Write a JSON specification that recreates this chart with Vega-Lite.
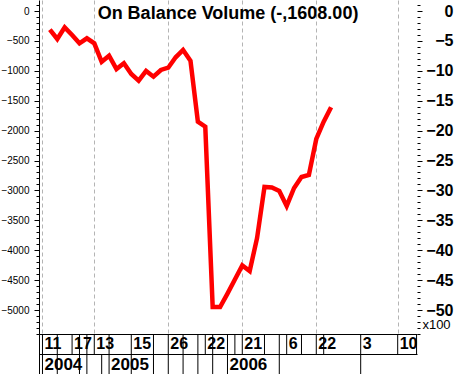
{
  "$schema": "https://vega.github.io/schema/vega-lite/v6.json",
  "autosize": {"type": "pad"},
  "padding": {"left": 0, "top": 0, "right": 2, "bottom": 0},
  "background": "white",
  "config": {"view": {"stroke": null}},
  "spacing": 0,
  "bounds": "flush",
  "datasets": {
    "obv": [
      {"t": 0, "v": -310}, {"t": 1, "v": -468}, {"t": 2, "v": -273}, {"t": 3, "v": -401},
      {"t": 4, "v": -540}, {"t": 5, "v": -456}, {"t": 6, "v": -540}, {"t": 7, "v": -848},
      {"t": 8, "v": -747}, {"t": 9, "v": -970}, {"t": 10, "v": -874}, {"t": 11, "v": -1053},
      {"t": 12, "v": -1165}, {"t": 13, "v": -1003}, {"t": 14, "v": -1098}, {"t": 15, "v": -986},
      {"t": 16, "v": -948}, {"t": 17, "v": -774}, {"t": 18, "v": -652}, {"t": 19, "v": -831},
      {"t": 20, "v": -1851}, {"t": 21, "v": -1934}, {"t": 22, "v": -4950}, {"t": 23, "v": -4950},
      {"t": 24, "v": -4725}, {"t": 25, "v": -4489}, {"t": 26, "v": -4253}, {"t": 27, "v": -4347},
      {"t": 28, "v": -3795}, {"t": 29, "v": -2943}, {"t": 30, "v": -2951}, {"t": 31, "v": -3010},
      {"t": 32, "v": -3260}, {"t": 33, "v": -2959}, {"t": 34, "v": -2776}, {"t": 35, "v": -2742},
      {"t": 36, "v": -2140}, {"t": 37, "v": -1851}, {"t": 38, "v": -1608}
    ],
    "seps": [
      {"t": -1, "row": "day"}, {"t": 1, "row": "day"}, {"t": 3, "row": "day"}, {"t": 4, "row": "day"},
      {"t": 5, "row": "day"}, {"t": 6, "row": "day"}, {"t": 8, "row": "day"}, {"t": 11, "row": "day"},
      {"t": 14, "row": "day"}, {"t": 16, "row": "day"}, {"t": 18, "row": "day"}, {"t": 20, "row": "day"},
      {"t": 21, "row": "day"}, {"t": 22, "row": "day"}, {"t": 24, "row": "day"}, {"t": 25, "row": "day"},
      {"t": 26, "row": "day"}, {"t": 29, "row": "day"}, {"t": 31, "row": "day"}, {"t": 32, "row": "day"},
      {"t": 34, "row": "day"}, {"t": 36, "row": "day"}, {"t": 37, "row": "day"}, {"t": 42, "row": "day"},
      {"t": 47, "row": "day"}, {"t": 49.55, "row": "day"},
      {"t": -1, "row": "year"}, {"t": 1, "row": "year"}, {"t": 4, "row": "year"}, {"t": 5, "row": "year"},
      {"t": 7, "row": "year"}, {"t": 8, "row": "year"}, {"t": 11, "row": "year"}, {"t": 14, "row": "year"},
      {"t": 16, "row": "year"}, {"t": 18, "row": "year"}, {"t": 20, "row": "year"}, {"t": 22, "row": "year"},
      {"t": 24, "row": "year"}, {"t": 31, "row": "year"}, {"t": 42, "row": "year"}
    ],
    "labels": [
      {"t": -1, "row": "day", "label": "11"}, {"t": 3, "row": "day", "label": "17"},
      {"t": 6, "row": "day", "label": "13"}, {"t": 11, "row": "day", "label": "15"},
      {"t": 16, "row": "day", "label": "26"}, {"t": 21, "row": "day", "label": "22"},
      {"t": 26, "row": "day", "label": "21"}, {"t": 32, "row": "day", "label": "6"},
      {"t": 36, "row": "day", "label": "22"}, {"t": 42, "row": "day", "label": "3"},
      {"t": 47, "row": "day", "label": "10"},
      {"t": -1, "row": "year", "label": "2004"}, {"t": 8, "row": "year", "label": "2005"},
      {"t": 24, "row": "year", "label": "2006"}
    ]
  },
  "vconcat": [
    {
      "width": 378,
      "height": 334,
      "title": {
        "text": "On Balance Volume (-,1608.00)",
        "font": "Liberation Sans",
        "fontSize": 18,
        "fontWeight": "bold",
        "color": "black",
        "anchor": "middle",
        "frame": "group",
        "baseline": "top",
        "offset": -23
      },
      "data": {"name": "obv"},
      "layer": [
        {
          "mark": {"type": "line", "color": "#ff0000", "strokeWidth": 4.5, "clip": true},
          "encoding": {
            "x": {
              "field": "t", "type": "quantitative",
              "scale": {"domain": [-1.47, 49.61], "nice": false, "zero": false},
              "axis": {
                "values": [-1, 3, 6, 11, 16, 21, 26, 32, 36, 42, 47],
                "grid": true, "gridDash": [4, 3], "gridColor": "#b4b4b4", "gridWidth": 1, "gridOpacity": 1,
                "labels": false, "ticks": false, "domain": false, "title": null
              }
            },
            "y": {
              "field": "v", "type": "quantitative",
              "scale": {"domain": [-5401, 184], "nice": false, "zero": false},
              "axis": {
                "orient": "left",
                "values": [-5400,-5300,-5200,-5100,-5000,-4900,-4800,-4700,-4600,-4500,-4400,-4300,-4200,-4100,-4000,-3900,-3800,-3700,-3600,-3500,-3400,-3300,-3200,-3100,-3000,-2900,-2800,-2700,-2600,-2500,-2400,-2300,-2200,-2100,-2000,-1900,-1800,-1700,-1600,-1500,-1400,-1300,-1200,-1100,-1000,-900,-800,-700,-600,-500,-400,-300,-200,-100,0,100],
                "format": "d",
                "labelExpr": "datum.value % 500 === 0 ? datum.label : ''",
                "tickSize": {"condition": {"test": "datum.value % 500 === 0", "value": 5}, "value": 3},
                "tickColor": "black", "tickWidth": 1,
                "domainColor": "black", "domainWidth": 1,
                "labelFont": "Liberation Sans", "labelFontSize": 10, "labelColor": "black",
                "labelPadding": 5, "labelBaseline": "middle",
                "grid": false, "title": null
              }
            }
          }
        },
        {
          "mark": {"type": "line", "opacity": 0},
          "encoding": {
            "x": {"field": "t", "type": "quantitative"},
            "y": {
              "field": "v", "type": "quantitative",
              "axis": {
                "orient": "right",
                "values": [-5400,-5300,-5200,-5100,-5000,-4900,-4800,-4700,-4600,-4500,-4400,-4300,-4200,-4100,-4000,-3900,-3800,-3700,-3600,-3500,-3400,-3300,-3200,-3100,-3000,-2900,-2800,-2700,-2600,-2500,-2400,-2300,-2200,-2100,-2000,-1900,-1800,-1700,-1600,-1500,-1400,-1300,-1200,-1100,-1000,-900,-800,-700,-600,-500,-400,-300,-200,-100,0,100],
                "labelExpr": "datum.value % 500 === 0 ? format(datum.value / 100, 'd') : ''",
                "tickSize": {"condition": {"test": "datum.value % 500 === 0", "value": 5}, "value": 3},
                "tickColor": "black", "tickWidth": 1,
                "domain": false,
                "labelFont": "Liberation Sans", "labelFontSize": 16, "labelFontWeight": "bold", "labelColor": "black",
                "labelAlign": "right", "labelPadding": 31, "labelBaseline": "middle",
                "grid": false,
                "title": "x100",
                "titleAngle": 0, "titleX": 19, "titleY": 324,
                "titleAlign": "center", "titleBaseline": "middle",
                "titleFont": "Liberation Sans", "titleFontSize": 13, "titleFontWeight": "normal", "titleColor": "black"
              }
            }
          }
        }
      ],
      "resolve": {"axis": {"y": "independent"}}
    },
    {
      "width": 378,
      "height": 40,
      "layer": [
        {
          "data": {"name": "seps"},
          "mark": {"type": "tick", "color": "black", "thickness": 1, "size": 20, "opacity": 1},
          "encoding": {
            "x": {"field": "t", "type": "quantitative", "scale": {"domain": [-1.47, 49.61], "nice": false, "zero": false}, "axis": null},
            "y": {
              "field": "row", "type": "nominal",
              "scale": {"domain": ["day", "year"], "paddingInner": 0, "paddingOuter": 0},
              "axis": {
                "orient": "left", "bandPosition": 0, "grid": true, "gridColor": "black", "gridOpacity": 1, "gridWidth": 1,
                "ticks": false, "labels": false, "domain": true, "domainColor": "black", "title": null
              }
            }
          }
        },
        {
          "data": {"name": "labels"},
          "transform": [{"filter": "datum.row === 'day'"}],
          "mark": {"type": "text", "align": "left", "baseline": "middle", "dx": 2, "dy": 0, "font": "Liberation Sans", "fontWeight": "bold", "fontSize": 16, "color": "black"},
          "encoding": {
            "x": {"field": "t", "type": "quantitative"},
            "y": {"field": "row", "type": "nominal"},
            "text": {"field": "label"}
          }
        },
        {
          "data": {"name": "labels"},
          "transform": [{"filter": "datum.row === 'year'"}],
          "mark": {"type": "text", "align": "left", "baseline": "middle", "dx": 2, "dy": 1, "font": "Liberation Sans", "fontWeight": "bold", "fontSize": 17, "color": "black"},
          "encoding": {
            "x": {"field": "t", "type": "quantitative"},
            "y": {"field": "row", "type": "nominal"},
            "text": {"field": "label"}
          }
        }
      ]
    }
  ]
}
